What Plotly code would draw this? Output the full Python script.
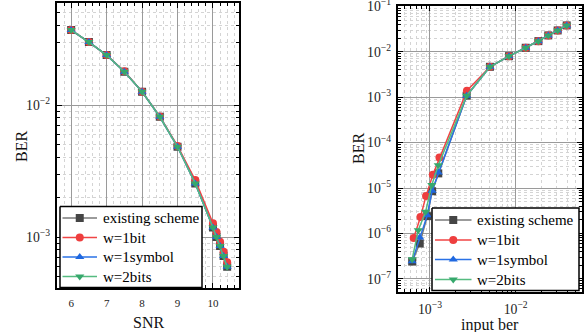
import plotly.graph_objects as go

# ---- BER vs SNR (left panel) ----
snr = [6, 6.5, 7, 7.5, 8, 8.5, 9, 9.5, 10, 10.1, 10.2, 10.3, 10.4]
ber_existing = [0.0370, 0.0300, 0.0239, 0.0179, 0.0126, 0.00815, 0.00483, 0.00255,
                0.00118, 0.00100, 0.000855, 0.000718, 0.000596]
ber_w1bit = [0.0370, 0.0300, 0.0239, 0.0180, 0.0126, 0.00820, 0.00490, 0.00270,
             0.00127, 0.00109, 0.000922, 0.000774, 0.000643]
ber_w1symbol = [0.0370, 0.0300, 0.0239, 0.0179, 0.0126, 0.00815, 0.00483, 0.00255,
                0.00118, 0.00100, 0.000855, 0.000718, 0.000596]
ber_w2bits = [0.0370, 0.0300, 0.0239, 0.0179, 0.0126, 0.00815, 0.00483, 0.00255,
              0.00118, 0.00100, 0.000855, 0.000718, 0.000596]

# ---- BER vs input ber (right panel) ----
in_existing = [0.0394, 0.0309, 0.0240, 0.0184, 0.0131, 0.00835, 0.00501, 0.00268,
               0.00125, 0.00106, 0.00093, 0.00076, 0.00062]
out_existing = [0.0382, 0.0296, 0.0230, 0.0172, 0.0123, 0.00803, 0.00468, 0.00108,
                2.1e-5, 8.5e-6, 2.4e-6, 6.0e-7, 2.4e-7]
in_w1bit = [0.0394, 0.0309, 0.0240, 0.0184, 0.0131, 0.00835, 0.00501, 0.00270,
            0.00129, 0.00108, 0.00090, 0.000775, 0.000646]
out_w1bit = [0.0382, 0.0296, 0.0230, 0.0172, 0.0123, 0.00803, 0.00468, 0.00139,
             4.7e-5, 1.95e-5, 6.7e-6, 2.3e-6, 7.9e-7]
in_w1symbol = [0.0394, 0.0309, 0.0240, 0.0184, 0.0131, 0.00835, 0.00501, 0.00268,
               0.00125, 0.00106, 0.00093, 0.00076, 0.00062]
out_w1symbol = [0.0382, 0.0296, 0.0230, 0.0172, 0.0123, 0.00803, 0.00468, 0.00108,
                2.2e-5, 8.7e-6, 2.5e-6, 8.1e-7, 2.45e-7]
in_w2bits = [0.0394, 0.0309, 0.0240, 0.0184, 0.0131, 0.00835, 0.00501, 0.00268,
             0.00125, 0.00105, 0.00089, 0.00073, 0.00062]
out_w2bits = [0.0382, 0.0296, 0.0230, 0.0172, 0.0123, 0.00803, 0.00468, 0.00108,
              3.16e-5, 1.17e-5, 3.0e-6, 1.18e-6, 2.7e-7]

names = ["existing scheme", "w=1bit", "w=1symbol", "w=2bits"]
line_colors = ["#7a7a7a", "#f04545", "#2a72e6", "#55bb80"]
marker_colors = ["#454545", "#ee3e3e", "#1f68e0", "#36a86c"]
symbols = ["square", "circle", "triangle-up", "triangle-down"]

left_sets = [ber_existing, ber_w1bit, ber_w1symbol, ber_w2bits]
right_sets = [(in_existing, out_existing), (in_w1bit, out_w1bit),
              (in_w1symbol, out_w1symbol), (in_w2bits, out_w2bits)]

FONT = "Liberation Serif, Times New Roman, serif"
W, H = 584, 332

fig = go.Figure()
for i, name in enumerate(names):
    fig.add_trace(go.Scatter(
        x=snr, y=left_sets[i], name=name, mode="lines+markers",
        line=dict(color=line_colors[i], width=1.5),
        marker=dict(symbol=symbols[i], size=8, color=marker_colors[i]),
        xaxis="x", yaxis="y", showlegend=False))
for i, name in enumerate(names):
    xs, ys = right_sets[i]
    fig.add_trace(go.Scatter(
        x=xs, y=ys, name=name, mode="lines+markers",
        line=dict(color=line_colors[i], width=1.5),
        marker=dict(symbol=symbols[i], size=8, color=marker_colors[i]),
        xaxis="x2", yaxis="y2", showlegend=False))

# ---- legend boxes, drawn on a pixel-scaled overlay axis pair (x3/y3) ----
# box: (left, top, right, bottom), key line x-extent, text x, row centres
legend_boxes = [
    dict(box=(60, 206.5, 202, 287.5), line=(62.5, 97), text_x=101,
         rows=[218, 237.5, 257, 276.5]),
    dict(box=(432, 208, 579, 290.5), line=(435, 471.5), text_x=474.5,
         rows=[220, 240, 259.5, 279.5]),
]
annotations = []
for lb in legend_boxes:
    l, t, r, b = lb["box"]
    fig.add_trace(go.Scatter(
        x=[l, r, r, l, l], y=[t, t, b, b, t], mode="lines", fill="toself",
        fillcolor="white", line=dict(color="black", width=1.5),
        xaxis="x3", yaxis="y3", showlegend=False, hoverinfo="skip"))
    x0, x1 = lb["line"]
    for i, name in enumerate(names):
        y = lb["rows"][i]
        fig.add_trace(go.Scatter(
            x=[x0, x1], y=[y, y], mode="lines",
            line=dict(color=line_colors[i], width=1.5),
            xaxis="x3", yaxis="y3", showlegend=False, hoverinfo="skip"))
        fig.add_trace(go.Scatter(
            x=[(x0 + x1) / 2], y=[y], mode="markers",
            marker=dict(symbol=symbols[i], size=8, color=marker_colors[i]),
            xaxis="x3", yaxis="y3", showlegend=False, hoverinfo="skip"))
        annotations.append(dict(
            x=lb["text_x"], y=y, xref="x3", yref="y3", text=name,
            showarrow=False, xanchor="left", yanchor="middle",
            font=dict(family=FONT, size=15, color="black")))

# axis titles (pixel positions on the overlay axes)
titlefont = dict(family=FONT, size=16, color="#111")
axis_titles = [("SNR", 148, 322, 0), ("BER", 21, 147, -90),
               ("input ber", 490, 325, 0), ("BER", 358, 149, -90)]
for text, tx, ty, ang in axis_titles:
    annotations.append(dict(
        x=tx, y=ty, xref="x3", yref="y3", text=text, textangle=ang,
        showarrow=False, xanchor="center", yanchor="middle", font=titlefont))

grid_major = "#9a9a9a"
grid_minor = "#d4d4d4"
tickfont = dict(family=FONT, size=11, color="#222")


def common_axis(**kw):
    d = dict(showline=True, linecolor="black", linewidth=1.5, mirror="allticks",
             ticks="inside", ticklen=5, tickcolor="black", tickwidth=1,
             showgrid=True, gridcolor=grid_major, gridwidth=1,
             tickfont=tickfont, zeroline=False, ticklabeloverflow="allow",
             automargin=False)
    d.update(kw)
    return d


def log_minor():
    return dict(dtick="D1", ticks="inside", ticklen=3, tickcolor="black",
                showgrid=True, gridcolor=grid_minor, griddash="dot")


fig.update_layout(
    width=W, height=H,
    margin=dict(l=0, r=0, t=0, b=0, autoexpand=False),
    paper_bgcolor="white", plot_bgcolor="rgba(0,0,0,0)",
    font=dict(family=FONT),
    showlegend=False,
    annotations=annotations,
    xaxis=common_axis(
        domain=[0.0976, 0.409], anchor="y", range=[5.6, 10.73],
        tickmode="linear", tick0=6, dtick=1, ticklabelstandoff=4,
        minor=dict(dtick=0.2, ticks="inside", ticklen=3, tickcolor="black",
                   showgrid=True, gridcolor=grid_minor, griddash="dot")),
    yaxis=common_axis(
        domain=[0.1325, 0.991], anchor="x", type="log",
        range=[-3.386, -1.227], dtick=1, exponentformat="power",
        ticklabelstandoff=3, minor=log_minor()),
    xaxis2=common_axis(
        domain=[0.6815, 0.9966], anchor="y2", type="log",
        range=[-3.373, -1.226], dtick=1, exponentformat="power",
        ticklabelstandoff=4, minor=log_minor()),
    yaxis2=common_axis(
        domain=[0.1205, 0.982], anchor="x2", type="log",
        range=[-7.29, -0.99], dtick=1, exponentformat="power",
        ticklabelstandoff=3, minor=log_minor()),
    xaxis3=dict(domain=[0, 1], range=[0, W], anchor="y3", visible=False,
                fixedrange=True, automargin=False),
    yaxis3=dict(domain=[0, 1], range=[H, 0], anchor="x3", visible=False,
                fixedrange=True, automargin=False),
)

fig.write_html("out.html")
